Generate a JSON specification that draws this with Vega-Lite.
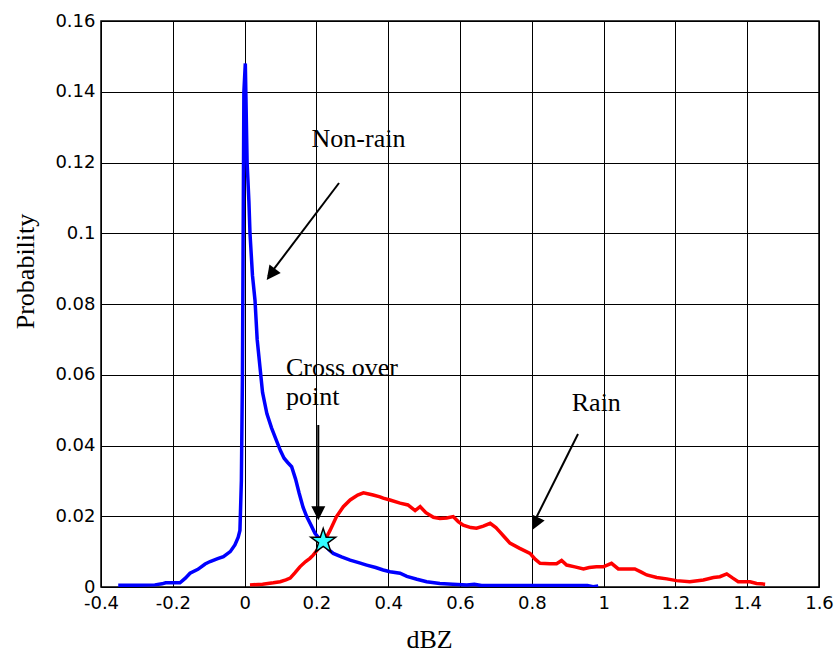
{
  "$schema": "https://vega.github.io/schema/vega-lite/v6.json",
  "width": 718,
  "height": 566,
  "autosize": {"type": "none"},
  "padding": {"left": 101, "top": 21, "right": 17, "bottom": 65},
  "background": "white",
  "config": {
    "view": {"stroke": "black", "strokeWidth": 1.5},
    "axis": {
      "grid": true, "gridColor": "black", "gridOpacity": 1, "gridWidth": 1,
      "ticks": false, "domain": false,
      "labelFont": "DejaVu Sans", "labelFontSize": 18, "labelColor": "black",
      "labelOverlap": false, "labelBound": false, "labelFlush": false,
      "titleFont": "Liberation Serif", "titleFontSize": 26, "titleFontWeight": "normal", "titleColor": "black"
    }
  },
  "datasets": {
    "curves": [
      {"s":"Non-rain","x":-0.352,"y":0.0005},{"s":"Non-rain","x":-0.30,"y":0.0005},{"s":"Non-rain","x":-0.25,"y":0.0006},{"s":"Non-rain","x":-0.23,"y":0.0009},{"s":"Non-rain","x":-0.22,"y":0.0012},{"s":"Non-rain","x":-0.18,"y":0.0012},{"s":"Non-rain","x":-0.165,"y":0.0025},{"s":"Non-rain","x":-0.152,"y":0.0039},{"s":"Non-rain","x":-0.13,"y":0.005},{"s":"Non-rain","x":-0.11,"y":0.0065},{"s":"Non-rain","x":-0.096,"y":0.0072},{"s":"Non-rain","x":-0.075,"y":0.008},{"s":"Non-rain","x":-0.059,"y":0.0086},{"s":"Non-rain","x":-0.04,"y":0.01},{"s":"Non-rain","x":-0.027,"y":0.0119},{"s":"Non-rain","x":-0.018,"y":0.014},{"s":"Non-rain","x":-0.013,"y":0.016},{"s":"Non-rain","x":-0.009,"y":0.03},{"s":"Non-rain","x":-0.006,"y":0.06},{"s":"Non-rain","x":-0.004,"y":0.1},{"s":"Non-rain","x":-0.002,"y":0.14},{"s":"Non-rain","x":0.002,"y":0.148},{"s":"Non-rain","x":0.007,"y":0.12},{"s":"Non-rain","x":0.012,"y":0.109},{"s":"Non-rain","x":0.015,"y":0.1},{"s":"Non-rain","x":0.022,"y":0.088},{"s":"Non-rain","x":0.029,"y":0.081},{"s":"Non-rain","x":0.035,"y":0.07},{"s":"Non-rain","x":0.041,"y":0.064},{"s":"Non-rain","x":0.05,"y":0.055},{"s":"Non-rain","x":0.062,"y":0.049},{"s":"Non-rain","x":0.075,"y":0.045},{"s":"Non-rain","x":0.088,"y":0.0416},{"s":"Non-rain","x":0.1,"y":0.0385},{"s":"Non-rain","x":0.11,"y":0.0364},{"s":"Non-rain","x":0.12,"y":0.0352},{"s":"Non-rain","x":0.131,"y":0.034},{"s":"Non-rain","x":0.142,"y":0.0305},{"s":"Non-rain","x":0.152,"y":0.0265},{"s":"Non-rain","x":0.163,"y":0.0225},{"s":"Non-rain","x":0.173,"y":0.0199},{"s":"Non-rain","x":0.185,"y":0.0175},{"s":"Non-rain","x":0.196,"y":0.0152},{"s":"Non-rain","x":0.207,"y":0.0138},{"s":"Non-rain","x":0.219,"y":0.0125},{"s":"Non-rain","x":0.235,"y":0.0105},{"s":"Non-rain","x":0.247,"y":0.0095},{"s":"Non-rain","x":0.27,"y":0.0085},{"s":"Non-rain","x":0.294,"y":0.0076},{"s":"Non-rain","x":0.32,"y":0.0068},{"s":"Non-rain","x":0.34,"y":0.0062},{"s":"Non-rain","x":0.365,"y":0.0055},{"s":"Non-rain","x":0.386,"y":0.0048},{"s":"Non-rain","x":0.405,"y":0.0043},{"s":"Non-rain","x":0.433,"y":0.0039},{"s":"Non-rain","x":0.452,"y":0.003},{"s":"Non-rain","x":0.48,"y":0.0022},{"s":"Non-rain","x":0.507,"y":0.0015},{"s":"Non-rain","x":0.544,"y":0.001},{"s":"Non-rain","x":0.58,"y":0.0008},{"s":"Non-rain","x":0.619,"y":0.0006},{"s":"Non-rain","x":0.64,"y":0.0008},{"s":"Non-rain","x":0.66,"y":0.0004},{"s":"Non-rain","x":0.75,"y":0.0004},{"s":"Non-rain","x":0.85,"y":0.0004},{"s":"Non-rain","x":0.955,"y":0.0004},{"s":"Non-rain","x":0.971,"y":0.0001},{"s":"Non-rain","x":0.985,"y":0.0003},
      {"s":"Rain","x":0.015,"y":0.0006},{"s":"Rain","x":0.05,"y":0.0008},{"s":"Rain","x":0.08,"y":0.0012},{"s":"Rain","x":0.099,"y":0.0015},{"s":"Rain","x":0.115,"y":0.002},{"s":"Rain","x":0.127,"y":0.0025},{"s":"Rain","x":0.14,"y":0.004},{"s":"Rain","x":0.154,"y":0.0057},{"s":"Rain","x":0.17,"y":0.0072},{"s":"Rain","x":0.182,"y":0.0081},{"s":"Rain","x":0.191,"y":0.009},{"s":"Rain","x":0.21,"y":0.0114},{"s":"Rain","x":0.225,"y":0.0135},{"s":"Rain","x":0.238,"y":0.016},{"s":"Rain","x":0.256,"y":0.0199},{"s":"Rain","x":0.275,"y":0.0227},{"s":"Rain","x":0.294,"y":0.0246},{"s":"Rain","x":0.315,"y":0.026},{"s":"Rain","x":0.331,"y":0.0266},{"s":"Rain","x":0.349,"y":0.0262},{"s":"Rain","x":0.358,"y":0.026},{"s":"Rain","x":0.377,"y":0.0255},{"s":"Rain","x":0.386,"y":0.0251},{"s":"Rain","x":0.405,"y":0.0246},{"s":"Rain","x":0.433,"y":0.0237},{"s":"Rain","x":0.455,"y":0.0232},{"s":"Rain","x":0.475,"y":0.0216},{"s":"Rain","x":0.489,"y":0.0227},{"s":"Rain","x":0.505,"y":0.021},{"s":"Rain","x":0.526,"y":0.0197},{"s":"Rain","x":0.544,"y":0.0194},{"s":"Rain","x":0.563,"y":0.0195},{"s":"Rain","x":0.581,"y":0.0199},{"s":"Rain","x":0.595,"y":0.0185},{"s":"Rain","x":0.609,"y":0.0175},{"s":"Rain","x":0.63,"y":0.0168},{"s":"Rain","x":0.646,"y":0.0166},{"s":"Rain","x":0.665,"y":0.0172},{"s":"Rain","x":0.684,"y":0.018},{"s":"Rain","x":0.7,"y":0.0168},{"s":"Rain","x":0.711,"y":0.0156},{"s":"Rain","x":0.725,"y":0.014},{"s":"Rain","x":0.739,"y":0.0124},{"s":"Rain","x":0.765,"y":0.011},{"s":"Rain","x":0.795,"y":0.0095},{"s":"Rain","x":0.81,"y":0.0078},{"s":"Rain","x":0.823,"y":0.0067},{"s":"Rain","x":0.85,"y":0.0066},{"s":"Rain","x":0.869,"y":0.0066},{"s":"Rain","x":0.883,"y":0.0075},{"s":"Rain","x":0.897,"y":0.0062},{"s":"Rain","x":0.92,"y":0.0057},{"s":"Rain","x":0.944,"y":0.0051},{"s":"Rain","x":0.96,"y":0.0055},{"s":"Rain","x":0.98,"y":0.0057},{"s":"Rain","x":0.999,"y":0.0057},{"s":"Rain","x":1.022,"y":0.0067},{"s":"Rain","x":1.041,"y":0.0051},{"s":"Rain","x":1.087,"y":0.0051},{"s":"Rain","x":1.105,"y":0.0042},{"s":"Rain","x":1.12,"y":0.0034},{"s":"Rain","x":1.148,"y":0.0027},{"s":"Rain","x":1.176,"y":0.0023},{"s":"Rain","x":1.203,"y":0.0018},{"s":"Rain","x":1.24,"y":0.0015},{"s":"Rain","x":1.278,"y":0.002},{"s":"Rain","x":1.306,"y":0.0027},{"s":"Rain","x":1.324,"y":0.0029},{"s":"Rain","x":1.343,"y":0.0037},{"s":"Rain","x":1.36,"y":0.0025},{"s":"Rain","x":1.375,"y":0.0015},{"s":"Rain","x":1.408,"y":0.0015},{"s":"Rain","x":1.426,"y":0.001},{"s":"Rain","x":1.45,"y":0.0008}
    ],
    "arrows": [
      {"x":0.263,"y":0.1142,"tx":0.066,"ty":0.0878},
      {"x":0.2053,"y":0.0458,"tx":0.2053,"ty":0.021},
      {"x":0.9287,"y":0.04325,"tx":0.806,"ty":0.0183}
    ],
    "heads": [
      {"x":0.0616,"y":0.0868,"angle":216.7},
      {"x":0.2053,"y":0.0189,"angle":180},
      {"x":0.8014,"y":0.0161,"angle":205.5}
    ],
    "star": [{"x":0.219,"y":0.0129}],
    "centerLabels": [
      {"x":0.3173,"y":0.1245,"label":"Non-rain"},
      {"x":0.9797,"y":0.04975,"label":"Rain"}
    ],
    "leftLabels": [
      {"x":0.1153,"y":0.0596,"label":"Cross over"},
      {"x":0.1153,"y":0.0514,"label":"point"}
    ]
  },
  "encoding": {
    "x": {
      "field": "x", "type": "quantitative",
      "scale": {"domain": [-0.4, 1.6], "nice": false, "zero": false},
      "axis": {"values": [-0.4,-0.2,0,0.2,0.4,0.6,0.8,1,1.2,1.4,1.6], "labelExpr": "replace(format(datum.value, '~g'), '\u2212', '-')", "labelPadding": 7,
               "title": "dBZ", "titleX": 328, "titleY": 60, "titleBaseline": "alphabetic", "titleAlign": "center"}
    },
    "y": {
      "field": "y", "type": "quantitative",
      "scale": {"domain": [0, 0.16], "nice": false, "zero": false},
      "axis": {"values": [0,0.02,0.04,0.06,0.08,0.1,0.12,0.14,0.16], "format": "~g", "labelPadding": 6,
               "title": "Probability", "titleAngle": -90, "titleX": -68, "titleY": 250, "titleBaseline": "alphabetic", "titleAlign": "center"}
    }
  },
  "layer": [
    {
      "data": {"name": "curves"},
      "mark": {"type": "line", "strokeWidth": 3.5, "clip": true},
      "encoding": {
        "color": {"field": "s", "type": "nominal", "scale": {"domain": ["Non-rain","Rain"], "range": ["#0000ff","#ff0000"]}, "legend": null}
      }
    },
    {
      "data": {"name": "arrows"},
      "mark": {"type": "rule", "color": "black", "strokeWidth": 2},
      "encoding": {
        "x2": {"field": "tx"},
        "y2": {"field": "ty"}
      }
    },
    {
      "data": {"name": "heads"},
      "mark": {"type": "point", "shape": "M0,0L0.5,1L-0.5,1Z", "filled": true, "color": "black", "opacity": 1, "size": 784},
      "encoding": {
        "angle": {"field": "angle", "type": "quantitative", "scale": null}
      }
    },
    {
      "data": {"name": "star"},
      "mark": {"type": "point", "shape": "M0,-1L0.2245,-0.309L0.951,-0.309L0.363,0.118L0.588,0.809L0,0.382L-0.588,0.809L-0.363,0.118L-0.951,-0.309L-0.2245,-0.309Z", "filled": true, "fill": "#33ffff", "stroke": "black", "strokeWidth": 1.5, "opacity": 1, "size": 676}
    },
    {
      "data": {"name": "centerLabels"},
      "mark": {"type": "text", "font": "Liberation Serif", "fontSize": 26, "align": "center", "baseline": "alphabetic", "color": "black"},
      "encoding": {"text": {"field": "label"}}
    },
    {
      "data": {"name": "leftLabels"},
      "mark": {"type": "text", "font": "Liberation Serif", "fontSize": 26, "align": "left", "baseline": "alphabetic", "color": "black"},
      "encoding": {"text": {"field": "label"}}
    }
  ]
}
